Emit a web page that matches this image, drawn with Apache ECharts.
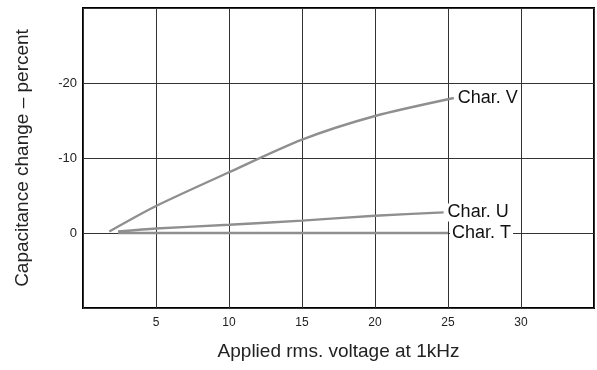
<!DOCTYPE html>
<html>
<head>
<meta charset="utf-8">
<script src="https://cdn.jsdelivr.net/npm/echarts@6/dist/echarts.min.js"></script>
<style>
  html, body { margin: 0; padding: 0; background: #fff; }
  #chart { width: 597px; height: 370px; }
</style>
</head>
<body>
<div id="chart"></div>
<script>
// curves: [rms volts, capacitance change %]
const charV = [[1.8, -0.2], [5, -3.6], [10, -8.1], [15, -12.45], [20, -15.6], [25.4, -18.0]];
const charU = [[2.4, -0.2], [5, -0.6], [10, -1.1], [15, -1.65], [20, -2.3], [24.7, -2.75]];
const charT = [[2.4, 0], [10, 0], [15, 0], [20, 0], [25, 0]];
const seriesNames = ['Char. V', 'Char. U', 'Char. T'];
const xTicks = [5, 10, 15, 20, 25, 30];
const yTicks = [-20, -10, 0];

const font = '"Liberation Sans", Arial, sans-serif';

const chart = echarts.init(document.getElementById('chart'));

function curve(name, data) {
    return {
        name: name,
        type: 'line',
        data: data,
        smooth: 0.25,
        symbol: 'none',
        lineStyle: { color: '#8f8f8f', width: 2.4 },
        endLabel: {
            show: true,
            formatter: '{a}',
            color: '#111',
            fontFamily: font,
            fontSize: 18,
            distance: 2,
            backgroundColor: '#fff',
            padding: [0, 2, 0, 2]
        },
        z: 3
    };
}

chart.setOption({
    animation: false,
    grid: {
        left: 83, top: 8, right: 1, bottom: 62,
        show: true, borderColor: '#000', borderWidth: 2,
        containLabel: false
    },
    xAxis: {
        type: 'value',
        min: 0, max: 35, interval: 5,
        name: 'Applied rms. voltage at 1kHz',
        nameLocation: 'middle',
        nameGap: 34,
        nameTextStyle: { fontFamily: font, fontSize: 19, color: '#222' },
        axisLine: { show: false },
        axisTick: { show: false },
        axisLabel: {
            fontFamily: font, fontSize: 12, color: '#222', margin: 9,
            formatter: v => xTicks.includes(v) ? String(v) : ''
        },
        splitLine: { show: true, lineStyle: { color: '#333', width: 1 } }
    },
    yAxis: {
        type: 'value',
        inverse: true,
        min: -30, max: 10, interval: 10,
        name: 'Capacitance change \u2013 percent',
        nameLocation: 'middle',
        nameGap: 51,
        nameTextStyle: { fontFamily: font, fontSize: 19, color: '#222' },
        axisLine: { show: false },
        axisTick: { show: false },
        axisLabel: {
            fontFamily: font, fontSize: 13, color: '#222', margin: 6,
            formatter: v => yTicks.includes(v) ? String(v) : ''
        },
        splitLine: { show: true, lineStyle: { color: '#333', width: 1 } }
    },
    series: [
        curve(seriesNames[0], charV),
        curve(seriesNames[1], charU),
        curve(seriesNames[2], charT)
    ]
});
</script>
</body>
</html>
